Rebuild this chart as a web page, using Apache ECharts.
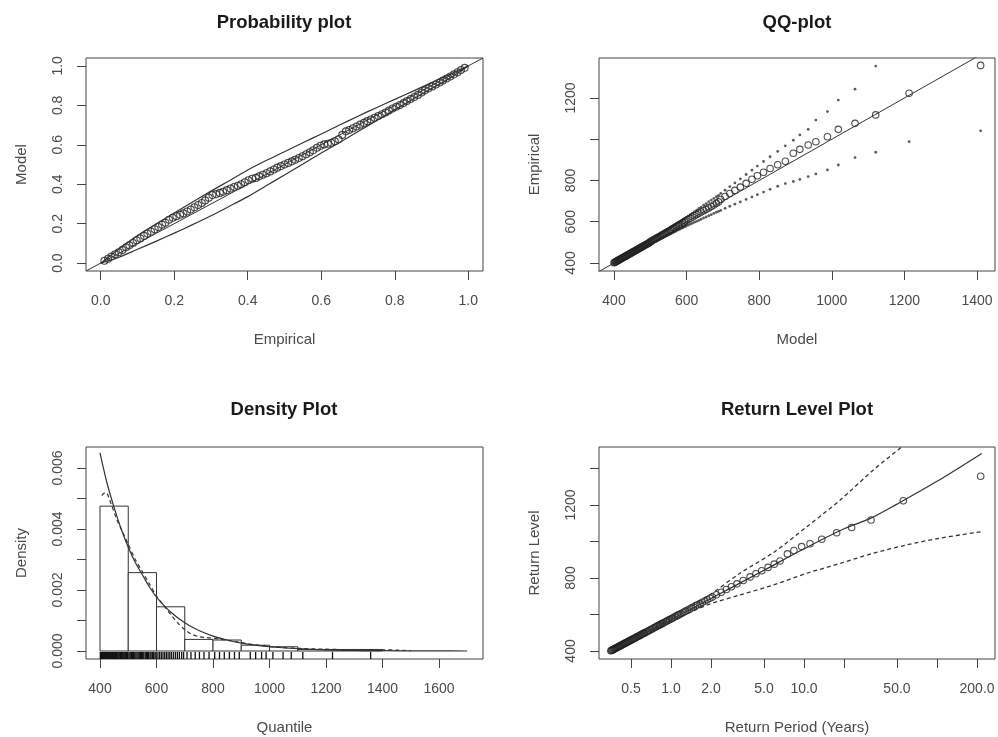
<!DOCTYPE html>
<html><head><meta charset="utf-8">
<script src="https://cdn.jsdelivr.net/npm/echarts@6/dist/echarts.min.js"></script>
<style>html,body{margin:0;padding:0;background:#fff}#c{width:998px;height:737px}</style>
</head><body><div id="c"></div>
<script>
// ===== DATA =====
// sorted observations (empirical quantiles)
const obs = [401,403,405,407,409,411,413,415,417,419,422,424,426,428,431,433,435,438,440,443,445,448,450,453,455,458,461,464,467,470,473,476,479,482,485,488,491,494,497,499,
503,507,511,515,519,523,527,531,535,539,543,547,551,555,560,564,568,572,577,581,586,590,595,599,
605,611,617,623,629,635,641,647,653,660,667,674,681,689,696,
708,722,737,752,768,786,
806,823,840,858,876,893,
932,951,972,988,1012,1048,1077,1118,1223,1358];
// model quantiles (QQ-plot x)
const modelQ = [400,402,404,406,408,410,412,414,416,418,421,423,425,427,430,432,434,437,439,442,444,447,449,452,454,457,460,463,466,469,472,475,478,481,484,487,490,493,496,498,
500,504,508,512,516,520,524,528,532,536,540,544,548,552,556,560,564,568,572,577,581,586,590,594,
598,604,610,616,622,628,634,640,647,654,661,668,675,682,688,
694,706,719,733,748,764,
780,795,812,830,851,872,
894,912,935,956,988,1018,1064,1121,1213,1410];
const qqUpper = [400,402,404,406,408,410,412,414,416,419,422,424,426,429,432,434,436,439,442,445,447,450,453,456,458,461,464,468,471,474,477,481,484,487,491,494,497,501,504,506,
508,513,517,522,526,531,535,540,545,549,554,558,563,567,572,576,581,586,590,596,600,606,611,615,
620,627,634,642,649,656,664,671,680,688,697,705,713,721,728,
737,753,770,788,808,829,
850,870,892,915,941,968,
995,1021,1048,1093,1134,1190,1243,1355,1500,1850];
const qqLower = [400,402,404,406,408,410,412,414,415,417,419,421,423,425,428,429,431,434,436,439,440,443,445,448,450,453,455,458,461,464,466,469,472,475,478,481,483,486,489,490,
492,496,499,503,506,510,513,517,520,524,527,531,534,538,541,545,548,552,555,560,563,568,571,575,
578,583,588,593,598,602,607,612,618,623,629,634,640,646,650,
655,665,675,685,696,708,
720,731,744,757,772,785,
795,805,819,832,851,875,911,937,988,1041];
// probability plot
const probEmp = [0.010,0.020,0.029,0.039,0.049,0.059,0.069,0.078,0.088,0.098,0.108,0.118,0.127,0.137,0.147,0.157,0.167,0.176,0.186,0.196,
0.206,0.216,0.225,0.235,0.245,0.255,0.265,0.275,0.284,0.294,0.304,0.314,0.324,0.333,0.343,0.353,0.363,0.373,0.382,0.392,
0.402,0.412,0.422,0.431,0.441,0.451,0.461,0.471,0.480,0.490,0.500,0.510,0.520,0.529,0.539,0.549,0.559,0.569,0.578,0.588,
0.598,0.608,0.618,0.627,0.637,0.647,0.657,0.667,0.676,0.686,0.696,0.706,0.716,0.725,0.735,0.745,0.755,0.765,0.775,0.784,
0.794,0.804,0.814,0.824,0.833,0.843,0.853,0.863,0.873,0.882,0.892,0.902,0.912,0.922,0.931,0.941,0.951,0.961,0.971,0.980,0.990];
const probModel = [0.012,0.022,0.033,0.045,0.055,0.067,0.080,0.090,0.102,0.115,0.125,0.138,0.150,0.160,0.172,0.183,0.195,0.205,0.220,0.230,
0.238,0.245,0.252,0.262,0.272,0.283,0.295,0.305,0.318,0.332,0.345,0.350,0.356,0.362,0.370,0.378,0.386,0.392,0.400,0.410,
0.420,0.428,0.432,0.440,0.448,0.456,0.465,0.475,0.484,0.492,0.500,0.508,0.516,0.524,0.533,0.542,0.552,0.562,0.572,0.585,
0.595,0.602,0.605,0.610,0.618,0.628,0.650,0.668,0.675,0.684,0.693,0.702,0.711,0.720,0.728,0.737,0.746,0.755,0.764,0.774,
0.784,0.793,0.802,0.812,0.822,0.832,0.842,0.853,0.865,0.876,0.886,0.896,0.906,0.916,0.926,0.936,0.946,0.957,0.968,0.979,0.990];
const probBandX = [0,0.05,0.1,0.15,0.2,0.25,0.3,0.35,0.4,0.45,0.5,0.55,0.6,0.65,0.7,0.75,0.8,0.85,0.9,0.95,1.0];
const probBandUpper = [0,0.072,0.14,0.198,0.254,0.31,0.365,0.418,0.472,0.52,0.565,0.61,0.655,0.70,0.745,0.788,0.830,0.872,0.915,0.958,1.0];
const probBandLower = [0,0.03,0.07,0.11,0.152,0.195,0.24,0.288,0.337,0.392,0.447,0.502,0.558,0.612,0.667,0.722,0.777,0.832,0.885,0.938,1.0];
// density plot
const histEdges = [400,500,600,700,800,900,1000,1100,1200,1300,1400];
const histDensity = [0.00475,0.00257,0.00145,0.00038,0.00036,0.00019,0.00014,0.00005,0.00005,0.00005];
const densX = [400,425,450,475,500,525,550,575,600,650,700,750,800,850,900,950,1000,1100,1200,1300,1400,1500,1600,1700];
const densModel = [0.0065,0.0055,0.0047,0.0040,0.0034,0.0029,0.0025,0.0021,0.00177,0.00128,0.00093,0.00067,0.00049,0.00036,0.00026,0.00019,0.00014,0.00008,0.00004,0.00002,0.00001,0.000005,0.000002,0.000001];
const kdeX = [406,420,440,460,480,500,525,550,575,600,625,650,675,700,725,750,800,850,900,950,1000,1050,1100,1150,1200,1250,1300,1350,1400,1450,1500];
const kdeY = [0.0051,0.0052,0.0048,0.0043,0.0039,0.0035,0.0030,0.0026,0.0022,0.0018,0.0015,0.0012,0.00092,0.0007,0.00055,0.00047,0.00042,0.00035,0.00028,0.0002,0.00015,0.00011,0.00009,0.00007,0.00006,0.00005,0.00005,0.00004,0.00004,0.00003,0.00001];
// return level plot
const rlPeriod = [0.353,0.357,0.361,0.366,0.370,0.375,0.379,0.384,0.388,0.393,0.400,0.405,0.410,0.415,0.422,0.427,0.432,0.440,0.445,0.453,0.459,0.467,0.473,0.481,0.487,0.496,0.505,0.514,0.523,0.532,0.542,0.552,0.561,0.572,0.582,0.592,0.603,0.614,0.625,0.632,
0.648,0.664,0.679,0.696,0.712,0.729,0.747,0.765,0.783,0.802,0.821,0.841,0.861,0.882,0.909,0.931,0.954,0.977,1.006,1.030,1.062,1.087,1.120,1.147,
1.189,1.232,1.277,1.324,1.372,1.422,1.474,1.528,1.584,1.652,1.722,1.795,1.871,1.962,2.046,
2.195,2.386,2.605,2.845,3.133,3.492,
3.93,4.35,4.81,5.37,5.97,6.60,
7.5,8.4,9.6,11.1,13.6,17.6,22.8,31.9,55.8,213];
const rlLineT = [0.36,0.5,1,2,5,10,20,31.9,50,100,217];
const rlLineL = [404,460,572,688,842,960,1070,1128,1205,1330,1483];
const rlUpT = [0.36,0.5,0.75,1,1.5,2,3.3,5.9,10.5,18.7,33.2,60,100,217];
const rlUpL = [405,462,525,585,655,712,826,940,1081,1227,1392,1545,1690,1950];
const rlLoT = [0.36,0.5,0.75,1,1.5,2,3.3,5.9,10.5,18.7,33,59,105,217];
const rlLoL = [402,453,517,560,622,660,707,762,826,880,935,981,1018,1054];
// ticks / labels
const probTicks = [0,0.2,0.4,0.6,0.8,1.0];
const qqXTicks = [400,600,800,1000,1200,1400];
const qqYTicks = [400,600,800,1000,1200];
const qqYLabels = [400,600,800,1200];
const densXTicks = [400,600,800,1000,1200,1400,1600];
const densYTicks = [0,0.001,0.002,0.003,0.004,0.005,0.006];
const densYLabels = [0,0.002,0.004,0.006];
const rlTickPeriods = [0.5,1,2,5,10,20,50,100,200];
const rlLabelPeriods = [0.5,1,2,5,10,50,200];
const rlYTicks = [400,600,800,1000,1200,1400];
const rlYLabels = [400,800,1200];
const titles = ['Probability plot','QQ-plot','Density Plot','Return Level Plot'];

// ===== CHART =====
const FONT = '"Liberation Sans", Arial, sans-serif';
const LAB = '#4a4a4a', LINE = '#333';
const grids = [
  {left:86, top:58, width:397, height:213},
  {left:599, top:58, width:396, height:213},
  {left:86, top:447, width:397, height:212},
  {left:599, top:447, width:396, height:212}
];
function xAx(gi, min, max, ticks, labels, fmt, name){
  return {type:'value', gridIndex:gi, min, max, name, nameLocation:'middle', nameGap:61,
    nameTextStyle:{fontFamily:FONT, fontSize:15, color:LAB},
    axisLine:{show:false, onZero:false}, splitLine:{show:false},
    axisTick:{show:true, length:9, customValues:ticks, lineStyle:{color:'#444', width:1}},
    axisLabel:{customValues:labels, formatter:fmt, margin:23, fontFamily:FONT, fontSize:14, color:LAB}};
}
function yAx(gi, min, max, ticks, labels, fmt, name){
  return {type:'value', gridIndex:gi, min, max, name, nameLocation:'middle', nameGap:57,
    nameTextStyle:{fontFamily:FONT, fontSize:15, color:LAB},
    axisLine:{show:false, onZero:false}, splitLine:{show:false},
    axisTick:{show:true, length:9, customValues:ticks, lineStyle:{color:'#444', width:1}},
    axisLabel:{customValues:labels, formatter:fmt, rotate:90, margin:21, fontFamily:FONT, fontSize:14, color:LAB}};
}
const lg = v => Math.log10(v);
const f1 = v => (+v).toFixed(1);
const f0 = v => String(Math.round(v));
const f3 = v => (+v).toFixed(3);
const zip = (a,b) => a.map((v,i)=>[v,b[i]]);
const circle = {color:'rgba(0,0,0,0)', borderColor:'#222', borderWidth:1.1};

const option = {
  animation:false,
  backgroundColor:'#fff',
  grid: grids.map(g => Object.assign({show:true, borderColor:'#444', borderWidth:1, backgroundColor:'transparent'}, g)),
  xAxis: [
    xAx(0,-0.04,1.04,probTicks,probTicks,f1,'Empirical'),
    xAx(1,358.7,1449.6,qqXTicks,qqXTicks,f0,'Model'),
    xAx(2,350.4,1755.8,densXTicks,densXTicks,f0,'Quantile'),
    xAx(3,-0.5414,2.436,rlTickPeriods.map(lg),rlLabelPeriods.map(lg),v=>Math.pow(10,v).toFixed(1),'Return Period (Years)')
  ],
  yAxis: [
    yAx(0,-0.04,1.04,probTicks,probTicks,f1,'Model'),
    yAx(1,361,1394,qqYTicks,qqYLabels,f0,'Empirical'),
    yAx(2,-0.000262,0.006689,densYTicks,densYLabels,f3,'Density'),
    yAx(3,356,1518,rlYTicks,rlYLabels,f0,'Return Level')
  ],
  graphic: titles.map((t,i)=>({type:'text', x: i%2===0 ? 284 : 797, y: i<2 ? 23 : 410, silent:true,
    style:{text:t, font:'bold 18.5px '+FONT, fill:'#1a1a1a', align:'center', verticalAlign:'middle', textAlign:'center', textVerticalAlign:'middle'}})),
  series: [
    // --- probability plot ---
    {type:'line', xAxisIndex:0, yAxisIndex:0, data:[[-0.04,-0.04],[1.04,1.04]], symbol:'none', lineStyle:{color:LINE,width:1}, silent:true},
    {type:'line', xAxisIndex:0, yAxisIndex:0, data:zip(probBandX,probBandUpper), smooth:0.3, symbol:'none', lineStyle:{color:LINE,width:1.2}, silent:true},
    {type:'line', xAxisIndex:0, yAxisIndex:0, data:zip(probBandX,probBandLower), smooth:0.3, symbol:'none', lineStyle:{color:LINE,width:1.2}, silent:true},
    {type:'scatter', xAxisIndex:0, yAxisIndex:0, data:zip(probEmp,probModel), symbol:'circle', symbolSize:7, itemStyle:circle, silent:true},
    // --- QQ plot ---
    {type:'line', xAxisIndex:1, yAxisIndex:1, data:[[350,350],[1460,1460]], symbol:'none', lineStyle:{color:LINE,width:1}, silent:true},
    {type:'scatter', xAxisIndex:1, yAxisIndex:1, data:zip(modelQ,qqUpper), symbol:'circle', symbolSize:2.8, itemStyle:{color:'#333'}, silent:true, clip:true},
    {type:'scatter', xAxisIndex:1, yAxisIndex:1, data:zip(modelQ,qqLower), symbol:'circle', symbolSize:2.8, itemStyle:{color:'#333'}, silent:true, clip:true},
    {type:'scatter', xAxisIndex:1, yAxisIndex:1, data:zip(modelQ,obs), symbol:'circle', symbolSize:6.5, itemStyle:circle, silent:true, clip:true},
    // --- density plot ---
    {type:'custom', xAxisIndex:2, yAxisIndex:2, silent:true,
      data: histDensity.map((h,i)=>[histEdges[i],histEdges[i+1],h]),
      encode:{x:[0,1], y:2},
      renderItem:(params, api)=>{
        const p0 = api.coord([api.value(0),0]), p1 = api.coord([api.value(1),api.value(2)]);
        return {type:'rect', shape:{x:p0[0], y:p1[1], width:p1[0]-p0[0], height:p0[1]-p1[1]},
          style:{fill:'#fff', stroke:LINE, lineWidth:1}};
      }},
    {type:'line', xAxisIndex:2, yAxisIndex:2, data:zip(densX,densModel), smooth:0.3, symbol:'none', lineStyle:{color:LINE,width:1.2}, silent:true},
    {type:'line', xAxisIndex:2, yAxisIndex:2, data:zip(kdeX,kdeY), smooth:0.3, symbol:'none', lineStyle:{color:LINE,width:1.2,type:[4,3]}, silent:true},
    {type:'custom', xAxisIndex:2, yAxisIndex:2, silent:true, data: obs.map(v=>[v]), encode:{x:0},
      renderItem:(params, api)=>{
        const p = api.coord([api.value(0), -0.000262]);
        return {type:'line', shape:{x1:p[0], y1:p[1], x2:p[0], y2:p[1]-7}, style:{stroke:'#111', lineWidth:1.3}};
      }},
    // --- return level plot ---
    {type:'line', xAxisIndex:3, yAxisIndex:3, data:zip(rlLineT.map(lg),rlLineL), smooth:0.3, symbol:'none', lineStyle:{color:LINE,width:1.2}, silent:true},
    {type:'line', xAxisIndex:3, yAxisIndex:3, data:zip(rlUpT.map(lg),rlUpL), smooth:0.3, symbol:'none', lineStyle:{color:LINE,width:1.3,type:[4,3]}, silent:true},
    {type:'line', xAxisIndex:3, yAxisIndex:3, data:zip(rlLoT.map(lg),rlLoL), smooth:0.3, symbol:'none', lineStyle:{color:LINE,width:1.3,type:[4,3]}, silent:true},
    {type:'scatter', xAxisIndex:3, yAxisIndex:3, data:zip(rlPeriod.map(lg),obs), symbol:'circle', symbolSize:6.5, itemStyle:circle, silent:true, clip:true}
  ]
};
const chart = echarts.init(document.getElementById('c'));
chart.setOption(option);
</script></body></html>
